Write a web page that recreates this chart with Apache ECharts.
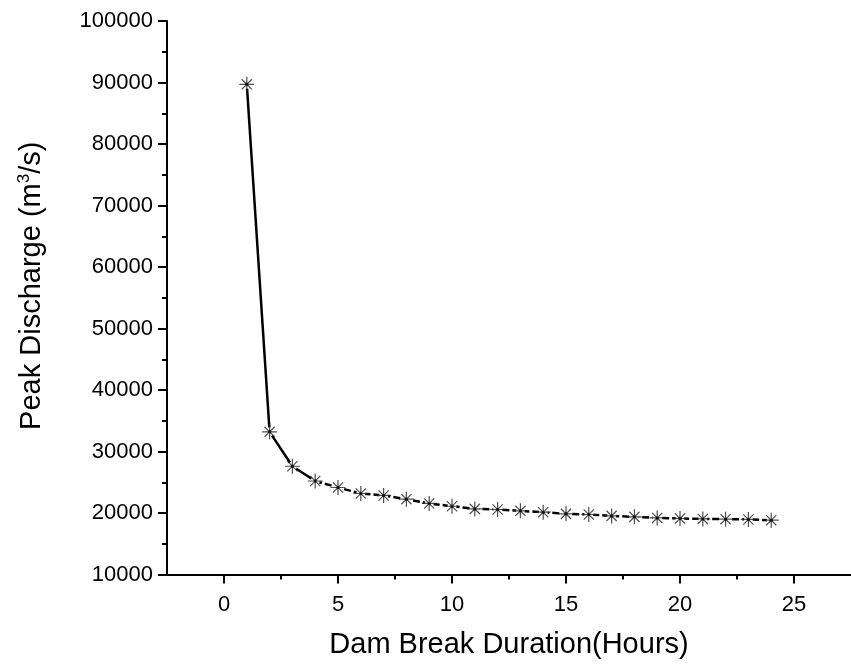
<!DOCTYPE html>
<html>
<head>
<meta charset="utf-8">
<script src="https://cdn.jsdelivr.net/npm/echarts@6/dist/echarts.min.js"></script>
<style>
html,body{margin:0;padding:0;background:#fff;}
#chart{width:851px;height:666px;}
</style>
</head>
<body>
<div id="chart"></div>
<script>
const hours = [1,2,3,4,5,6,7,8,9,10,11,12,13,14,15,16,17,18,19,20,21,22,23,24];
const discharge = [89700,33200,27600,25200,24150,23170,22850,22250,21550,21100,20670,20570,20350,20130,19860,19760,19530,19370,19200,19110,19040,19000,18950,18830];
const xMajorTicks = [0,5,10,15,20,25];
const xMinorTicks = [2.5,7.5,12.5,17.5,22.5];

const pts = hours.map((h,i)=>[h,discharge[i]]);
const solidPart = pts.slice(0,4);
const dashedPart = pts.slice(3);

const FONT = 'Liberation Sans, Arial, sans-serif';
const chart = echarts.init(document.getElementById('chart'), null, {renderer:'canvas'});
const star = 'path://M0 5 L10 5 M5 0 L5 10 M1.6 1.6 L8.4 8.4 M8.4 1.6 L1.6 8.4';

chart.setOption({
  animation:false,
  backgroundColor:'#fff',
  grid:{left:167, top:21, width:687.5, height:553.5, containLabel:false},
  xAxis:[{
    type:'value', min:-2.5, max:27.5,
    name:'Dam Break Duration(Hours)', nameLocation:'middle', nameGap:56,
    nameTextStyle:{fontFamily:FONT, fontSize:29, color:'#000'},
    axisLine:{show:true, onZero:false, lineStyle:{color:'#000', width:2}},
    axisTick:{show:true, inside:false, length:9, lineStyle:{color:'#000', width:2}, customValues:xMajorTicks},
    axisLabel:{fontFamily:FONT, fontSize:22, color:'#000', margin:19, customValues:xMajorTicks},
    splitLine:{show:false}
  },{
    type:'value', min:-2.5, max:27.5, position:'bottom',
    axisLine:{show:false, onZero:false},
    axisTick:{show:true, length:5, lineStyle:{color:'#000', width:2}, customValues:xMinorTicks},
    axisLabel:{show:false},
    splitLine:{show:false}
  }],
  yAxis:{
    type:'value', min:10000, max:100000, interval:10000,
    name:'Peak Discharge (m{sup|3}/s)', nameLocation:'middle', nameGap:120, nameRotate:90,
    nameTextStyle:{fontFamily:FONT, fontSize:29, color:'#000', padding:[0,0,0,24],
      rich:{sup:{fontFamily:FONT, fontSize:17, color:'#000', padding:[0,0,14,0]}}},
    axisLine:{show:true, onZero:false, lineStyle:{color:'#000', width:2}},
    axisTick:{show:true, length:9, lineStyle:{color:'#000', width:2}},
    minorTick:{show:true, splitNumber:2, length:5, lineStyle:{color:'#000', width:2}},
    axisLabel:{fontFamily:FONT, fontSize:22, color:'#000', margin:14, formatter:(v)=>String(v)},
    splitLine:{show:false}
  },
  series:[
    {type:'line', data:solidPart, showSymbol:false, symbol:'none', z:2,
      lineStyle:{color:'#000', width:2.5, type:'solid'}},
    {type:'line', data:dashedPart, showSymbol:false, symbol:'none', z:2,
      lineStyle:{color:'#000', width:2.5, type:[7,3]}},
    {type:'scatter', data:pts, symbol:'circle', symbolSize:9, z:3,
      itemStyle:{color:'#fff', opacity:1}},
    {type:'scatter', data:pts, symbol:star, symbolSize:15, z:4,
      itemStyle:{color:'#000', borderColor:'#222', borderWidth:1.2}},
    {type:'scatter', data:pts, symbol:'circle', symbolSize:3, z:5,
      itemStyle:{color:'#000'}}
  ]
});
</script>
</body>
</html>
